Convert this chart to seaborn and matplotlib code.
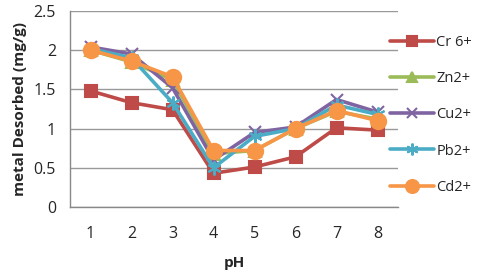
import pandas as pd
import seaborn as sns
import matplotlib.pyplot as plt

# Values
ph = [1, 2, 3, 4, 5, 6, 7, 8]
cr = [1.48, 1.33, 1.24, 0.43, 0.51, 0.64, 1.01, 0.98]
zn = [2.00, 1.85, 1.62, 0.68, 0.72, 1.00, 1.22, 1.12]
cu = [2.04, 1.95, 1.52, 0.60, 0.95, 1.02, 1.37, 1.21]
pb = [2.02, 1.90, 1.33, 0.50, 0.90, 1.00, 1.30, 1.18]
cd = [2.00, 1.86, 1.66, 0.72, 0.72, 1.00, 1.23, 1.10]

series = {"Cr 6+": cr, "Zn2+": zn, "Cu2+": cu, "Pb2+": pb, "Cd2+": cd}
colors = {"Cr 6+": "#BE4B48", "Zn2+": "#9BBB59", "Cu2+": "#8064A2",
          "Pb2+": "#4BACC6", "Cd2+": "#F79646"}
markers = {"Cr 6+": "s", "Zn2+": "^", "Cu2+": "x", "Pb2+": (6, 2, 0), "Cd2+": "o"}
msizes = {"Cr 6+": 9, "Zn2+": 8, "Cu2+": 9, "Pb2+": 10, "Cd2+": 11}

rows = []
for name, vals in series.items():
    for x, v in zip(ph, vals):
        rows.append({"pH": x, "value": v, "metal": name})
df = pd.DataFrame(rows)

sns.set_style("white")
plt.rcParams["font.family"] = ["Open Sans", "DejaVu Sans"]

fig = plt.figure(figsize=(5, 2.79), dpi=100)
ax = fig.add_axes([0.14, 0.258, 0.656, 0.703])

for name in series:
    sub = df[df["metal"] == name]
    sns.lineplot(data=sub, x="pH", y="value", ax=ax, color=colors[name],
                 marker=markers[name], markersize=msizes[name], linewidth=2.6,
                 markeredgecolor=colors[name], markeredgewidth=1.5, label=name)

ax.set_xlim(0.5, 8.5)
ax.set_ylim(0, 2.5)
ax.set_yticks([0, 0.5, 1, 1.5, 2, 2.5])
ax.set_yticklabels(["0", "0.5", "1", "1.5", "2", "2.5"])
ax.set_xticks(ph)
ax.set_xticklabels([str(p) for p in ph])
ax.set_xticks([p - 0.5 for p in ph] + [8.5], minor=True)
ax.tick_params(axis="x", which="major", length=0, pad=14, labelsize=11.5)
ax.tick_params(axis="x", which="minor", length=5, color="#888888", direction="out")
ax.tick_params(axis="y", length=4, color="#888888", direction="out", labelsize=11.5, pad=6)

ax.grid(axis="y", color="#999999", linewidth=1)
ax.set_axisbelow(True)
for s in ["top", "right"]:
    ax.spines[s].set_visible(False)
for s in ["left", "bottom"]:
    ax.spines[s].set_color("#888888")
    ax.spines[s].set_linewidth(1)

ax.set_xlabel("pH", fontweight="bold", fontsize=11, labelpad=10)
ax.set_ylabel("metal Desorbed (mg/g)", fontweight="bold", fontsize=11, labelpad=5)

ax.legend(loc="upper left", bbox_to_anchor=(0.768, 0.895), bbox_transform=fig.transFigure,
          frameon=False, fontsize=10.5, handlelength=3.0, labelspacing=1.45,
          handletextpad=0.2, borderaxespad=0, markerscale=0.85)

fig.savefig("out.png", dpi=100)
